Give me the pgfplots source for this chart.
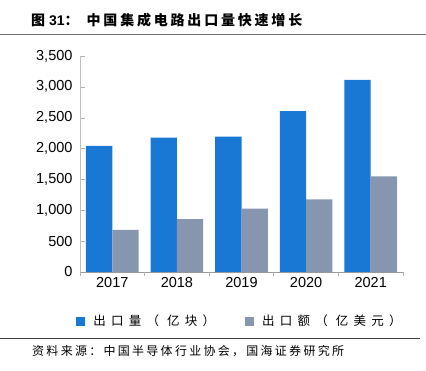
\documentclass[border=0pt]{standalone}
\usepackage{fontspec}
\setmainfont{Liberation Sans}
\newfontfamily\cjk{Noto Sans CJK SC}
\newfontfamily\cjkls[LetterSpace=42]{Noto Sans CJK SC}
\usepackage{pgfplots}
\pgfplotsset{compat=1.18}
\definecolor{cblue}{HTML}{1878D4}
\definecolor{cgray}{HTML}{8696AF}
\begin{document}
\begin{tikzpicture}[x=1pt,y=1pt]
\path[use as bounding box] (0,0) rectangle (426,371);
\node[anchor=west, inner sep=0] at (31,351) {\fontsize{14}{16}\selectfont\bfseries{\cjk 图} 31{\cjk ：}\hspace{8pt}{\cjk\addfontfeatures{LetterSpace=20}中国集成电路出口量快速增长}};
\draw[black!55, line width=0.9] (0,337) -- (426,337);
\begin{axis}[
  at={(80pt,99pt)}, anchor=south west,
  scale only axis, width=323pt, height=216pt,
  xmin=-0.5, xmax=4.5, ymin=0, ymax=3500,
  ybar=0pt, bar width=26.3pt,
  axis x line*=bottom, axis y line*=left,
  x axis line style={draw=black!40, line width=0.8pt},
  y axis line style={draw=black!25, line width=0.8pt},
  tick align=inside,
  major tick length=5pt,
  ytick={0,500,...,3500},
  ytick style={draw=black!30},
  xtick={0,1,2,3,4},
  xticklabels={2017,2018,2019,2020,2021},
  xtick style={draw=none},
  /pgf/number format/assume math mode=true,
  /pgf/number format/1000 sep={,},
  ticklabel style={font=\fontsize{14.5}{16}\selectfont},
  yticklabel style={xshift=-4pt},
  xticklabel style={yshift=-2pt},
  legend style={at={(-0.012,-0.227)}, anchor=west, draw=none, fill=none,
    legend columns=2, font=\fontsize{12.5}{14}\selectfont\cjkls,
    /tikz/every odd column/.append style={column sep=6pt},
    /tikz/every even column/.append style={column sep=28pt},
    inner sep=0pt},
  legend image code/.code={\fill[#1] (0pt,-4.5pt) rectangle (9pt,4.5pt);},
]
\addplot[fill=cblue, draw=none] coordinates {(0,2043) (1,2177) (2,2194) (3,2608) (4,3113)};
\addplot[fill=cgray, draw=none] coordinates {(0,683) (1,855) (2,1027) (3,1177) (4,1548)};
\legend{出口量（ 亿块）, 出口额（ 亿美元）}
\end{axis}
\foreach \k in {0,...,5} {\draw[black!30, line width=0.8] (80+64.6*\k,99) -- (80+64.6*\k,94.5);}
\draw[black!75, line width=0.9] (0,33) -- (420,33);
\node[anchor=west, inner sep=0] at (32,20) {\fontsize{12}{14}\selectfont\cjk\addfontfeatures{LetterSpace=19}资料来源：中国半导体行业协会，国海证券研究所};
\end{tikzpicture}
\end{document}
